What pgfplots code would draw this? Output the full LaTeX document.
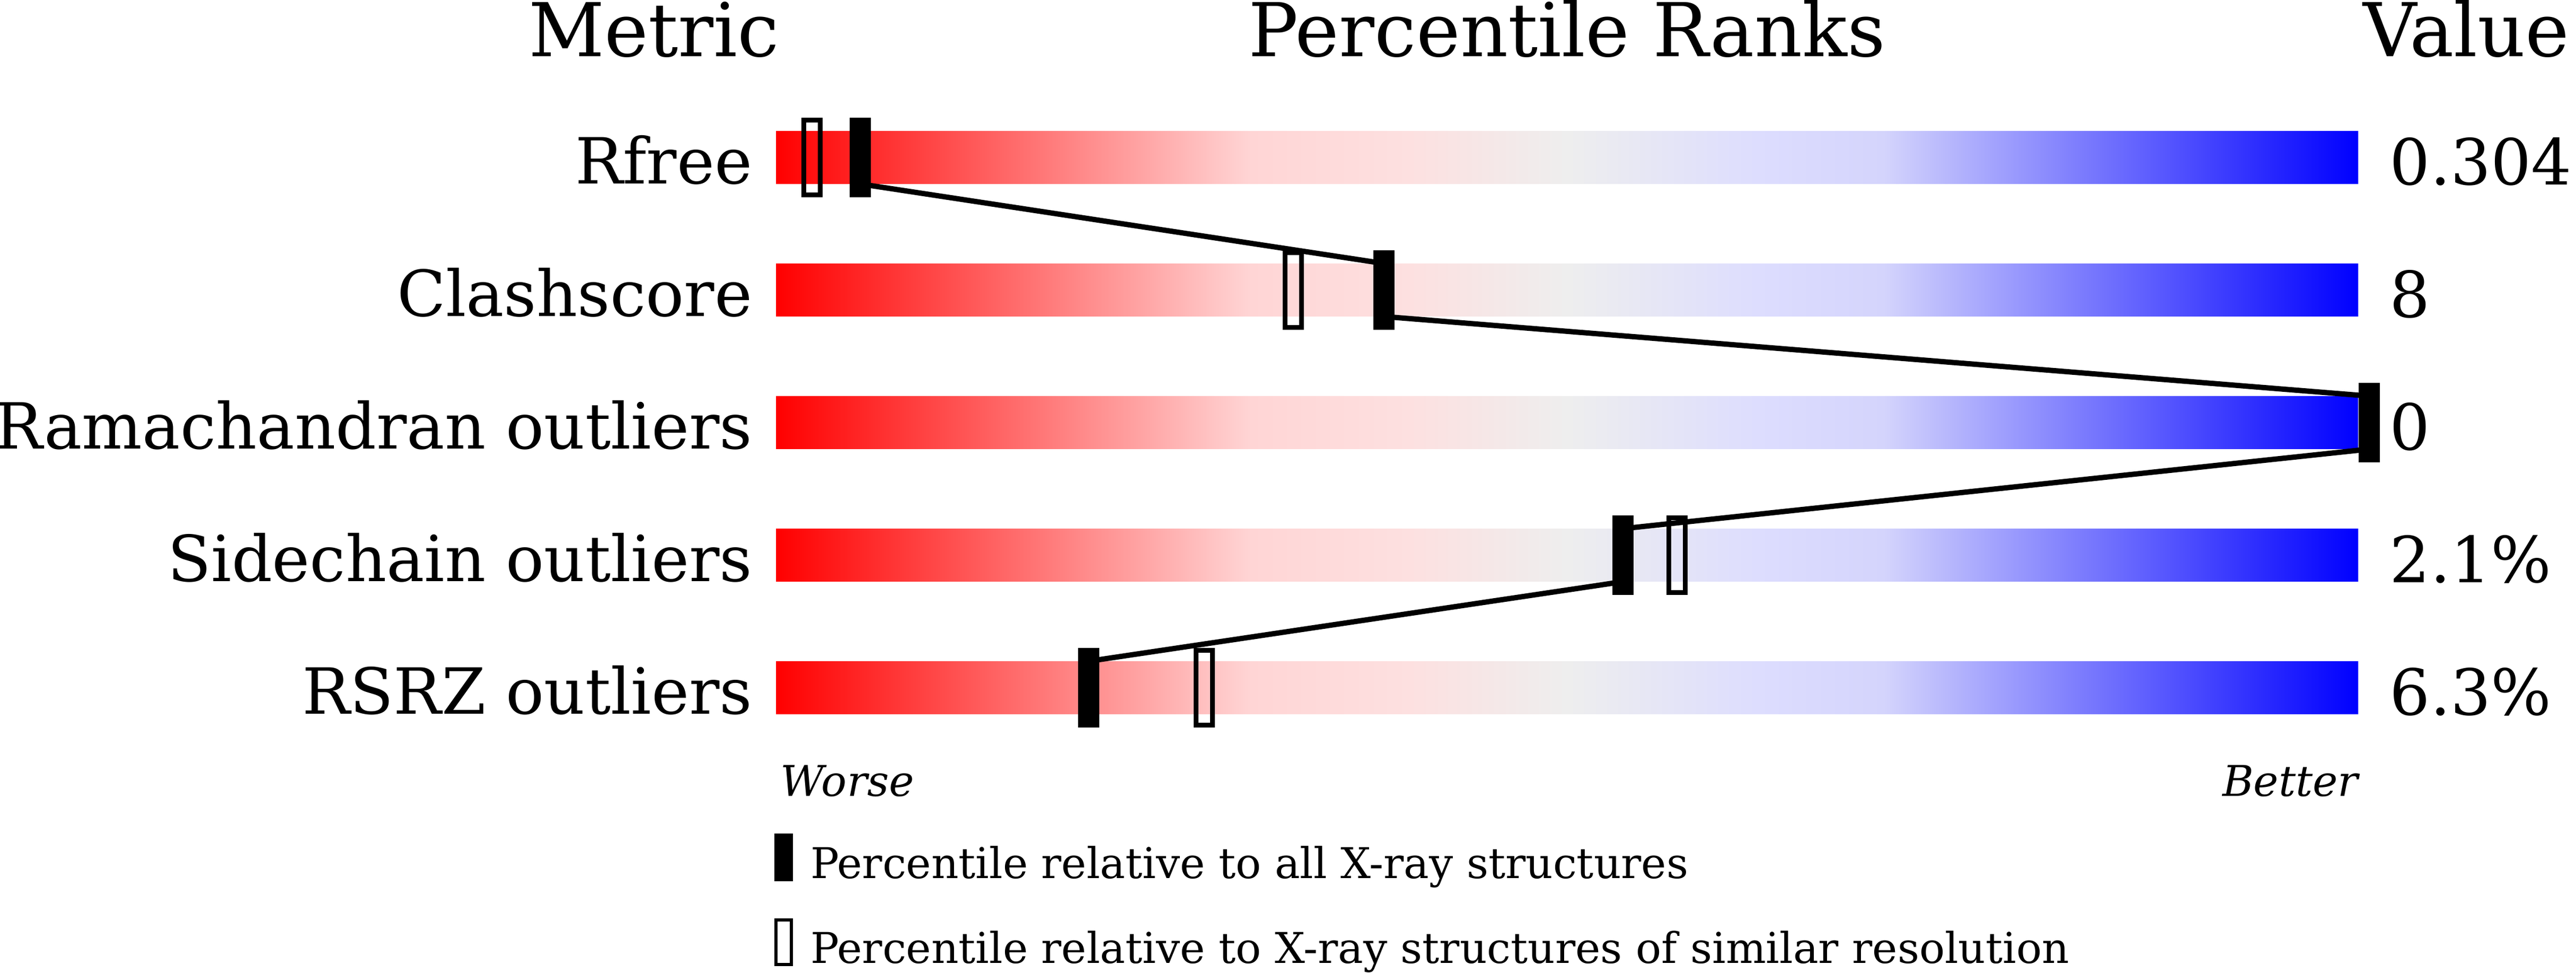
\documentclass[border=0pt]{standalone}
\usepackage{pgfplots}
\pgfplotsset{compat=1.18}
\usepackage{fontspec}
\setmainfont{DejaVu Serif}

% slider colours, red (worse) to blue (better)
\definecolor{sPink}{RGB}{255,213,213}
\definecolor{sPinkL}{RGB}{253,224,224}
\definecolor{sGrey}{RGB}{238,238,238}
\definecolor{sLav}{RGB}{221,221,254}
\definecolor{sLavD}{RGB}{212,212,252}
\pgfdeclarehorizontalshading{slider}{100bp}{
  color(0bp)=(red); color(25bp)=(red);
  color(40bp)=(sPink); color(45bp)=(sPinkL);
  color(50bp)=(sGrey); color(56bp)=(sLav); color(60bp)=(sLavD);
  color(75bp)=(blue); color(100bp)=(blue)}

% percentile markers
\pgfdeclareplotmark{pall}{%
  \pgfpathrectangle{\pgfpoint{-2pt}{-7.5pt}}{\pgfpoint{4pt}{15pt}}\pgfusepath{fill}}
\pgfdeclareplotmark{psim}{%
  \pgfpathrectangle{\pgfpoint{-1.55pt}{-7.05pt}}{\pgfpoint{3.1pt}{14.1pt}}\pgfusepath{stroke}}
\pgfdeclareplotmark{lall}{%
  \pgfpathrectangle{\pgfpoint{-1.75pt}{-4.5pt}}{\pgfpoint{3.5pt}{9pt}}\pgfusepath{fill}}
\pgfdeclareplotmark{lsim}{%
  \pgfpathrectangle{\pgfpoint{-1.45pt}{-4.2pt}}{\pgfpoint{2.9pt}{8.4pt}}\pgfusepath{stroke}}

\begin{document}
\begin{tikzpicture}[
  hd/.style={inner sep=0pt, outer sep=0pt, font=\fontsize{14}{16}\selectfont},
  lb/.style={inner sep=0pt, outer sep=0pt, font=\fontsize{12}{14}\selectfont},
  sm/.style={inner sep=0pt, outer sep=0pt, font=\fontsize{8}{10}\selectfont},
]
\begin{axis}[
  at={(0,0)}, anchor=south west,
  scale only axis, width=486pt, height=183.5pt,
  xmin=-49.045, xmax=113.77,
  ymin=-1.188, ymax=6.152,
  y dir=reverse,
  hide axis, clip=false,
]
  % gradient bars
  \addplot[xbar, bar width=10pt, bar shift=0pt, draw=none, shading=slider]
    coordinates {(100,0) (100,1) (100,2) (100,3) (100,4)};

  % line joining the "all structures" markers
  \addplot[black, line width=1pt, mark=none] coordinates {
    (5.33,0.2) (38.43,0.8) (38.43,1.2) (100.7,1.8) (100.7,2.2)
    (53.53,2.8) (53.53,3.2) (19.77,3.8)};

  % similar resolution (hollow)
  \addplot[only marks, mark=psim, mark options={draw=black, line width=0.9pt, solid}]
    coordinates {(2.28,0) (32.70,1) (100.7,2) (56.95,3) (27.07,4)};
  % all X-ray structures (filled)
  \addplot[only marks, mark=pall, mark options={fill=black, draw=none}]
    coordinates {(5.33,0) (38.43,1) (100.7,2) (53.53,3) (19.77,4)};

  % legend symbols
  \addplot[only marks, mark=lall, mark options={fill=black, draw=none}]
    coordinates {(0.47,5.28)};
  \addplot[only marks, mark=lsim, mark options={draw=black, line width=0.6pt, solid}]
    coordinates {(0.47,5.92)};

  % headers
  \node[hd, anchor=base east] at (axis cs:0.2,-0.76) {Metric};
  \node[hd, anchor=base] at (axis cs:50,-0.76) {Percentile Ranks};
  \node[hd, anchor=base west] at (axis cs:100.3,-0.76) {Value};

  % metric names
  \node[lb, anchor=base east] at (axis cs:-1.5,0.2) {Rfree};
  \node[lb, anchor=base east] at (axis cs:-1.5,1.2) {Clashscore};
  \node[lb, anchor=base east] at (axis cs:-1.5,2.2) {Ramachandran outliers};
  \node[lb, anchor=base east] at (axis cs:-1.5,3.2) {Sidechain outliers};
  \node[lb, anchor=base east] at (axis cs:-1.5,4.2) {RSRZ outliers};

  % values
  \node[lb, anchor=base west] at (axis cs:102.0,0.208) {0.304};
  \node[lb, anchor=base west] at (axis cs:102.0,1.208) {8};
  \node[lb, anchor=base west] at (axis cs:102.0,2.208) {0};
  \node[lb, anchor=base west] at (axis cs:102.0,3.208) {2.1\%};
  \node[lb, anchor=base west] at (axis cs:102.0,4.208) {6.3\%};

  % worse / better
  \node[sm, anchor=base west] at (axis cs:0.3,4.82) {\itshape Worse};
  \node[sm, anchor=base east] at (axis cs:100,4.82) {\itshape Better};

  % legend text
  \node[sm, anchor=base west] at (axis cs:2.18,5.44) {Percentile relative to all X-ray structures};
  \node[sm, anchor=base west] at (axis cs:2.18,6.076) {Percentile relative to X-ray structures of similar resolution};
\end{axis}
\pgfresetboundingbox
\useasboundingbox (0,0) rectangle (486pt,183.5pt);
\end{tikzpicture}
\end{document}
